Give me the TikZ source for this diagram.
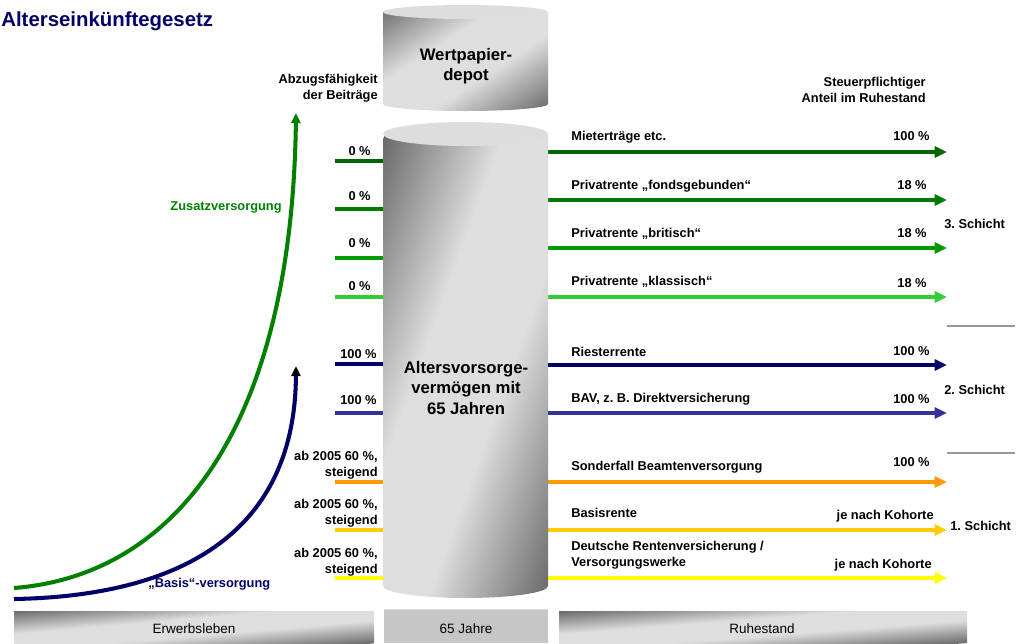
\documentclass[tikz,border=0pt]{standalone}
\usepackage{fontspec}
\setmainfont{Liberation Sans}
\usetikzlibrary{arrows.meta,positioning}
\definecolor{ctitle}{HTML}{000066}
\definecolor{cmiet}{HTML}{006600}
\definecolor{cfonds}{HTML}{007A00}
\definecolor{cbrit}{HTML}{009900}
\definecolor{cklass}{HTML}{33CC33}
\definecolor{criest}{HTML}{000066}
\definecolor{cbav}{HTML}{333399}
\definecolor{cbeamt}{HTML}{FF9900}
\definecolor{cbasis}{HTML}{FFCC00}
\definecolor{cdrv}{HTML}{FFFF00}
\definecolor{czusatz}{HTML}{008000}
\definecolor{cyldark}{HTML}{6A6A6A}
\definecolor{cyllight}{HTML}{DEDEDE}
\definecolor{cyltop}{HTML}{DDDDDD}
\definecolor{sepgray}{HTML}{999999}
\pgfdeclarehorizontalshading{cylshade}{100bp}{color(0bp)=(cyldark); color(25bp)=(cyldark);
  color(43bp)=(cyllight); color(57bp)=(cyllight); color(75bp)=(cyldark); color(100bp)=(cyldark)}
% angle, centre x, centre y, half extent along shading, half extent across
\newcommand{\rotshade}[5]{%
  \shade[shading=cylshade, transform canvas={rotate around={#1:(#2,#3)}}]%
  (#2,#3) ++({-#4},{-#5}) rectangle ++({2*#4},{2*#5});}

\begin{document}
\frenchspacing
\begin{tikzpicture}[x=0.02cm,y=-0.02cm]
  \tikzset{%
    lbl/.style={font=\bfseries\fontsize{7.3}{8.8}\selectfont, inner sep=0pt},%
    big/.style={font=\bfseries\fontsize{9.5}{11.4}\selectfont, inner sep=0pt, align=center},%
    barlbl/.style={font=\fontsize{7.7}{9}\selectfont, inner sep=0pt},%
    stub/.style={line width=2.5pt},%
    flow/.style={line width=2.5pt, -{Triangle[length=7pt,width=6.2pt]}},%
    curve/.style={line width=2.3pt},%
    sep/.style={line width=1.6pt, sepgray},%
    cyl top/.style={fill=cyltop}%
  }%
  \useasboundingbox (0,0) rectangle (1021,643);%

  % Titel
  \node[anchor=mid west, inner sep=0pt, ctitle,%
    font=\bfseries\fontsize{11.6}{13}\selectfont] (title) at (1,22) {Alterseinkünftegesetz};%

  %
  % Zu- und Abfluesse
  %
  \foreach \n/\yl/\yr/\c in {miet/161/152/cmiet, fonds/209/200/cfonds,%
      brit/258/248/cbrit, klass/297/297/cklass, riest/364/365/criest,%
      bav/413/413/cbav, beamt/482/482/cbeamt, basis/530/530/cbasis,%
      drv/578/578/cdrv} {%
      \coordinate (\n\space in) at (335,\yl);%
      \coordinate (\n\space left) at (390,\yl);%
      \coordinate (\n\space right) at (545,\yr);%
      \coordinate (\n\space out) at (947,\yr);%
      \draw[stub,\c] (\n\space in) -- (\n\space left);%
      \draw[flow,\c] (\n\space right) -- (\n\space out);%
    }%

  %
  % Zylinder
  %
  % Wertpapierdepot
  \begin{scope}
    \clip (383,12) -- (383,104)%
    arc[start angle=180, end angle=0, x radius=82.5, y radius=7] -- (548,12) -- cycle;%
    \rotshade{-57}{465.5}{58}{89}{110}%
  \end{scope}
  \fill[cyl top] (465.5,12) ellipse[x radius=82.5, y radius=7];%
  \node[big] (depot) at (466,66) {Wertpapier-\\depot};%

  % Altersvorsorgevermoegen
  \begin{scope}
    \clip (383,134) -- (383,586)%
    arc[start angle=180, end angle=0, x radius=82.5, y radius=12] -- (548,134) -- cycle;%
    \rotshade{-20}{465.5}{366}{155}{270}%
  \end{scope}
  \fill[cyl top] (465.5,134) ellipse[x radius=82.5, y radius=12];%
  \node[big] (vermoegen) at (466,388) {Altersvorsorge-\\vermögen mit\\65 Jahren};%

  %
  % Beschriftungen links
  %
  \node[lbl, align=right, anchor=east] (abzug) at (378,88) {Abzugsfähigkeit\\der Beiträge};%
  \foreach \n/\y in {a/151, b/196, c/243, d/286} {%
      \node[lbl, anchor=mid east] (zero \n) at (371,\y) {0 \%};%
    }%
  \node[lbl, anchor=mid east] (hundert a) at (377,354) {100 \%};%
  \node[lbl, anchor=mid east] (hundert b) at (377,400) {100 \%};%
  \foreach \n/\y in {a/465, b/513, c/562} {%
      \node[lbl, align=right, anchor=east] (ab \n) at (378,\y) {ab 2005 60 \%,\\steigend};%
    }%

  %
  % Beschriftungen rechts
  %
  \node[lbl, align=right, anchor=east] (steuer) at (926,90) {Steuerpflichtiger\\Anteil im Ruhestand};%
  \node[lbl, anchor=mid west] (miet label) at (571,136) {Mieterträge etc.};%
  \node[lbl, anchor=mid west] (fonds label) at (571,185) {Privatrente „fondsgebunden“};%
  \node[lbl, anchor=mid west] (brit label) at (571,233) {Privatrente „britisch“};%
  \node[lbl, anchor=mid west] (klass label) at (571,281) {Privatrente „klassisch“};%
  \node[lbl, anchor=mid west] (riest label) at (571,352) {Riesterrente};%
  \node[lbl, anchor=mid west] (bav label) at (571,398) {BAV, z. B. Direktversicherung};%
  \node[lbl, anchor=mid west] (beamt label) at (571,466) {Sonderfall Beamtenversorgung};%
  \node[lbl, anchor=mid west] (basis label) at (571,513) {Basisrente};%
  \node[lbl, anchor=west, align=left] (drv label) at (571,555) {Deutsche Rentenversicherung /\\Versorgungswerke};%

  \node[lbl, anchor=mid east] (miet value) at (930,136) {100 \%};%
  \node[lbl, anchor=mid east] (fonds value) at (927,185) {18 \%};%
  \node[lbl, anchor=mid east] (brit value) at (927,233) {18 \%};%
  \node[lbl, anchor=mid east] (klass value) at (927,283) {18 \%};%
  \node[lbl, anchor=mid east] (riest value) at (930,351) {100 \%};%
  \node[lbl, anchor=mid east] (bav value) at (930,399) {100 \%};%
  \node[lbl, anchor=mid east] (beamt value) at (930,462) {100 \%};%
  \node[lbl, anchor=mid east] (basis value) at (934,515) {je nach Kohorte};%
  \node[lbl, anchor=mid east] (drv value) at (932,564) {je nach Kohorte};%

  % Schichten
  \node[lbl, anchor=mid west] (schicht 3) at (944,224) {3. Schicht};%
  \node[lbl, anchor=mid west] (schicht 2) at (944,390) {2. Schicht};%
  \node[lbl, anchor=mid west] (schicht 1) at (950,526) {1. Schicht};%
  \coordinate (sep a west) at (947,326);%
  \coordinate (sep a east) at (1015,326);%
  \coordinate (sep b west) at (947,453);%
  \coordinate (sep b east) at (1015,453);%
  \draw[sep] (sep a west) -- (sep a east);%
  \draw[sep] (sep b west) -- (sep b east);%

  %
  % Kurven
  %
  \coordinate (zusatz start) at (14,588);%
  \coordinate (zusatz end) at (296,113);%
  \draw[curve, czusatz, -{Triangle[length=5.8pt,width=5.2pt]}] (zusatz start)%
  .. controls (180,575) and (292,420) .. (zusatz end);%
  \node[lbl, czusatz, anchor=mid east] (zusatz label) at (282,206) {Zusatzversorgung};%

  \coordinate (basis start) at (14,599);%
  \coordinate (basis end) at (296,366);%
  \draw[curve, ctitle, -{Triangle[length=5.8pt,width=5.2pt,color=black]}] (basis start)%
  .. controls (185,596) and (295,530) .. (basis end);%
  \node[lbl, ctitle, anchor=mid west] (basis curve label) at (148,583) {„Basis“-versorgung};%

  %
  % Zeitachse
  %
  \begin{scope}
    \clip (14,611) rectangle (374,643);%
    \rotshade{-85}{194}{627}{32}{200}%
  \end{scope}
  \fill[gray!45] (384,609) rectangle (548,643);%
  \draw[white!85!black, line width=0.6pt] (384,609.5) -- (548,609.5);%
  \begin{scope}
    \clip (559,611) rectangle (967,643);%
    \rotshade{-85.5}{763}{627}{32}{220}%
  \end{scope}
  \node[barlbl] (erwerb) at (194,629) {Erwerbsleben};%
  \node[barlbl] (jahre) at (466,629) {65 Jahre};%
  \node[barlbl] (ruhe) at (762,629) {Ruhestand};%
\end{tikzpicture}
\end{document}
